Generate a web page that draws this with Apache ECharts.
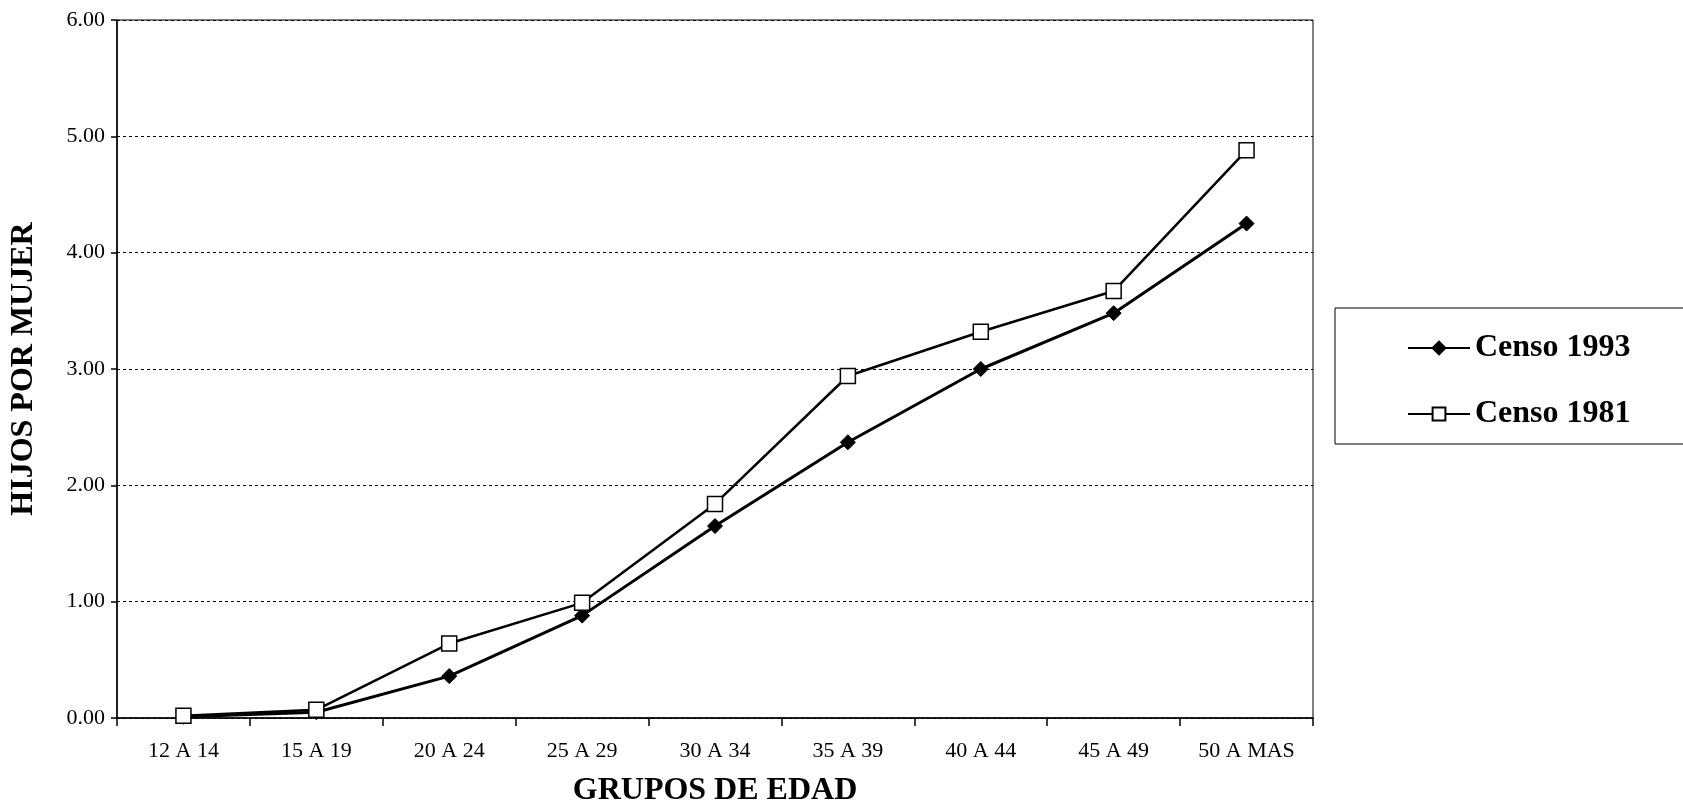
<!DOCTYPE html>
<html>
<head>
<meta charset="utf-8">
<script src="https://cdn.jsdelivr.net/npm/echarts@6/dist/echarts.min.js"></script>
<style>
html,body{margin:0;padding:0;background:#fff;}
#chart{width:1683px;height:803px;}
</style>
</head>
<body>
<div id="chart"></div>
<script>
const categories = ['12 A 14','15 A 19','20 A 24','25 A 29','30 A 34','35 A 39','40 A 44','45 A 49','50 A MAS'];
const censo1993 = [0.01, 0.05, 0.36, 0.88, 1.65, 2.37, 3.00, 3.48, 4.25];
const censo1981 = [0.02, 0.07, 0.64, 0.99, 1.84, 2.94, 3.32, 3.67, 4.88];
const seriesNames = ['Censo 1993', 'Censo 1981'];
const yTicks = {min: 0, max: 6, interval: 1};

const FONT = '"Liberation Serif", "Times New Roman", serif';
const chart = echarts.init(document.getElementById('chart'));
chart.setOption({
  animation: false,
  backgroundColor: '#fff',
  grid: {left: 117, right: 370, top: 20, bottom: 85, outerBoundsMode: 'none', containLabel: false, show: true, borderColor: '#000', borderWidth: 1, backgroundColor: 'transparent'},
  legend: {
    orient: 'vertical',
    left: 1335, top: 308,
    padding: [24, 55, 14, 72],
    itemGap: 34,
    itemWidth: 62, itemHeight: 16,
    borderColor: '#000', borderWidth: 1,
    backgroundColor: '#fff',
    textStyle: {fontFamily: FONT, fontSize: 32, fontWeight: 'bold', color: '#000', padding: [0,0,0,0]},
    data: seriesNames
  },
  xAxis: {
    type: 'category',
    data: categories,
    boundaryGap: true,
    name: 'GRUPOS DE EDAD',
    nameLocation: 'middle',
    nameGap: 57,
    nameMoveOverlap: false,
    nameTextStyle: {fontFamily: FONT, fontSize: 32, fontWeight: 'bold', color: '#000'},
    axisLine: {lineStyle: {color: '#000', width: 1.5}},
    axisTick: {show: true, alignWithLabel: false, length: 8, lineStyle: {color: '#000', width: 1.5}},
    axisLabel: {fontFamily: FONT, fontSize: 22, color: '#000', margin: 22},
    splitLine: {show: false}
  },
  yAxis: {
    type: 'value',
    min: yTicks.min, max: yTicks.max, interval: yTicks.interval,
    name: 'HIJOS POR MUJER',
    nameLocation: 'middle',
    nameGap: 77,
    nameMoveOverlap: false,
    nameRotate: 90,
    nameTextStyle: {fontFamily: FONT, fontSize: 32, fontWeight: 'bold', color: '#000'},
    axisLine: {show: true, lineStyle: {color: '#000', width: 1.5}},
    axisTick: {show: true, length: 6, lineStyle: {color: '#000', width: 1.5}},
    axisLabel: {fontFamily: FONT, fontSize: 22, color: '#000', margin: 12, formatter: v => v.toFixed(2)},
    splitLine: {show: true, lineStyle: {color: '#000', type: [3, 3], width: 1}}
  },
  series: [
    {
      name: seriesNames[0], type: 'line', data: censo1993,
      symbol: 'diamond', symbolSize: 15, showAllSymbol: true,
      lineStyle: {color: '#000', width: 3},
      itemStyle: {color: '#000', borderColor: '#000', borderWidth: 1},
      z: 3
    },
    {
      name: seriesNames[1], type: 'line', data: censo1981,
      symbol: 'rect', symbolSize: 15, showAllSymbol: true,
      lineStyle: {color: '#000', width: 2.5},
      itemStyle: {color: '#fff', borderColor: '#000', borderWidth: 1.5},
      z: 4
    }
  ]
});
</script>
</body>
</html>
